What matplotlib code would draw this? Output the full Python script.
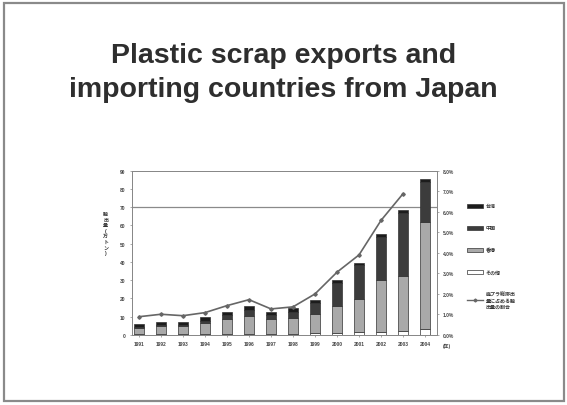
"""
Plastic scrap exports from Japan by destination, 1991-2004 (slide recreation)
"""

import matplotlib

matplotlib.use("Agg")
import matplotlib.pyplot as plt
import numpy as np
from matplotlib.lines import Line2D
from matplotlib.patches import Patch, Rectangle
from matplotlib.ticker import FuncFormatter, MultipleLocator

plt.rcParams["font.family"] = ["Liberation Sans", "Noto Sans CJK JP", "DejaVu Sans"]

years = ["1991", "1992", "1993", "1994", "1995", "1996", "1997",
         "1998", "1999", "2000", "2001", "2002", "2003", "2004"]

# export volume, 10k tonnes, stacked bottom -> top
other = [0.5, 0.5, 0.5, 0.6, 0.7, 0.8, 0.7, 0.8, 1.0, 1.2, 1.5, 1.5, 2.0, 3.5]
hong_kong = [3.5, 4.2, 4.5, 5.8, 8.0, 9.7, 8.0, 8.5, 10.5, 14.8, 18.2, 28.7, 30.4, 58.5]
china = [0.5, 0.6, 0.7, 1.2, 2.0, 3.0, 2.2, 3.3, 6.3, 12.7, 18.5, 23.5, 34.6, 21.7]
taiwan = [1.5, 1.6, 1.6, 2.0, 2.0, 2.5, 1.8, 2.0, 1.5, 1.5, 1.5, 1.5, 1.5, 1.5]

# share of exports in total waste plastic discharge, % (no value for 2004)
share_pct = [0.89, 1.01, 0.94, 1.09, 1.43, 1.72, 1.27, 1.37, 2.0, 3.06, 3.9, 5.58, 6.88]

series = [
    ("その他", other, "white"),
    ("香港", hong_kong, "#a9a9a9"),
    ("中国", china, "#3c3c3c"),
    ("台湾", taiwan, "#1c1c1c"),
]

TICK_FS = 3.5
GREY = "#444444"

fig = plt.figure(figsize=(5.67, 4.06), dpi=100)
fig.patch.set_facecolor("white")

# slide frame
fig.patches.append(
    Rectangle((4 / 567, 4 / 406), 560 / 567, 398 / 406, transform=fig.transFigure,
              fill=False, edgecolor="#8a8a8a", linewidth=1.6, zorder=0)
)

title_kw = dict(ha="center", va="baseline", fontsize=20.5, fontweight="bold",
                color="#2e2e2e")
fig.text(0.5, 1 - 63 / 406, "Plastic scrap exports and", **title_kw)
fig.text(0.5, 1 - 97 / 406, "importing countries from Japan", **title_kw)

ax = fig.add_axes([131.7 / 567, 1 - 336 / 406, 305 / 567, 164.3 / 406])
x = np.arange(len(years))
bottom = np.zeros(len(years))
for name, vals, col in series:
    vals = np.array(vals)
    ax.bar(x, vals, width=0.42, bottom=bottom, color=col,
           edgecolor="#333333", linewidth=0.5, zorder=3)
    bottom += vals

ax.axhline(70, color="#8a8a8a", linewidth=0.9, zorder=1)
ax.set_xlim(-0.33, 13.53)
ax.set_ylim(0, 90)
ax.yaxis.set_major_locator(MultipleLocator(10))
ax.set_xticks(x, years)
ax.tick_params(axis="both", labelsize=TICK_FS, labelcolor=GREY, length=1.5,
               width=0.5, color="#888888", pad=3)
plt.setp(ax.get_xticklabels() + ax.get_yticklabels(), fontweight="bold")
for side in ("left", "right", "top", "bottom"):
    ax.spines[side].set_color("#888888")
    ax.spines[side].set_linewidth(0.7)

ax2 = ax.twinx()
ax2.plot(x[: len(share_pct)], share_pct, color="#666666", linewidth=1.2,
         marker="D", markersize=1.8, zorder=5)
ax2.set_ylim(0, 8.0)
ax2.yaxis.set_major_locator(MultipleLocator(1))
ax2.yaxis.set_major_formatter(FuncFormatter(lambda v, _: f"{v:.1f}%"))
ax2.tick_params(axis="y", labelsize=TICK_FS, labelcolor=GREY, length=1.5,
                width=0.5, color="#888888", pad=3)
plt.setp(ax2.get_yticklabels(), fontweight="bold")
for side in ("left", "right", "top", "bottom"):
    ax2.spines[side].set_color("#888888")
    ax2.spines[side].set_linewidth(0.7)

# left axis label, written vertically
ax.text(-0.085, 0.62, "輸\n出\n量\n(\n万\nト\nン\n)", transform=ax.transAxes,
        ha="center", va="center", fontsize=3.6, color="#333333",
        linespacing=1.15, fontweight="bold")
ax.text(1.02, -0.065, "(年)", transform=ax.transAxes, ha="left", va="center",
        fontsize=TICK_FS, color=GREY, fontweight="bold")

leg_handles = [
    Patch(facecolor="#1c1c1c", edgecolor="#333333", linewidth=0.5),
    Patch(facecolor="#3c3c3c", edgecolor="#333333", linewidth=0.5),
    Patch(facecolor="#a9a9a9", edgecolor="#333333", linewidth=0.5),
    Patch(facecolor="white", edgecolor="#333333", linewidth=0.5),
    Line2D([], [], color="#666666", linewidth=1.0, marker="D", markersize=1.5),
]
leg_labels = ["台湾", "中国", "香港", "その他", "廃プラ総排出\n量に占める輸\n出量の割合"]
leg = fig.legend(leg_handles, leg_labels, loc="upper left",
                 bbox_to_anchor=(462 / 567, 1 - 200 / 406), frameon=False,
                 fontsize=3.6, labelspacing=3.4, handlelength=3.3,
                 handleheight=0.9, handletextpad=0.5, labelcolor="#333333")
plt.setp(leg.get_texts(), fontweight="bold")

fig.savefig("out.png", dpi=100, facecolor="white")
